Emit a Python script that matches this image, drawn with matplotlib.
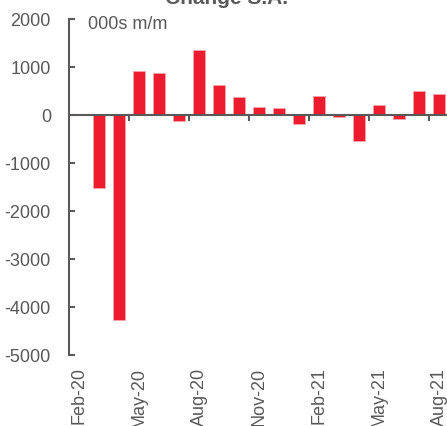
import numpy as np
import matplotlib
matplotlib.use("Agg")
import matplotlib.pyplot as plt

plt.rcParams["font.family"] = ["Liberation Sans", "DejaVu Sans"]
plt.rcParams["axes.unicode_minus"] = False

# monthly change, 000s m/m
months = ["Feb-20", "Mar-20", "Apr-20", "May-20", "Jun-20", "Jul-20", "Aug-20",
          "Sep-20", "Oct-20", "Nov-20", "Dec-20", "Jan-21", "Feb-21", "Mar-21",
          "Apr-21", "May-21", "Jun-21", "Jul-21", "Aug-21"]
change = [0, -1530, -4270, 915, 868, -118, 1360, 618, 375, 174, 139, -194,
          389, -35, -542, 201, -83, 493, 431]

grey = "#595959"
red = "#ED1C2E"

fig = plt.figure(figsize=(4.47, 4.26), dpi=100)
ax = fig.add_axes([69 / 447, 1 - 355 / 426, 1 - 69 / 447, 336 / 426])

x = np.arange(len(months))
ax.bar(x, change, width=0.6, color=red, edgecolor="#F5A3AA", linewidth=0.6, zorder=2)

ax.set_ylim(-5000, 2000)
ax.set_yticks(np.arange(-5000, 2001, 1000))
ax.tick_params(axis="y", direction="in", length=4, width=1.5, color=grey,
               labelsize=13, labelcolor=grey, pad=13)

for s in ["top", "right"]:
    ax.spines[s].set_visible(False)
ax.spines["left"].set_color(grey)
ax.spines["left"].set_linewidth(1.5)
ax.spines["bottom"].set_position(("data", 0))
ax.spines["bottom"].set_color(grey)
ax.spines["bottom"].set_linewidth(1.5)
ax.spines["bottom"].set_zorder(3)

# tick marks on the zero line, between every third month
ax.set_xticks(x[::3] + 2.5)
ax.set_xticklabels([])
ax.tick_params(axis="x", direction="out", length=4, width=1.5, color=grey)

# month labels along the bottom
sec = ax.secondary_xaxis(0)
sec.set_xticks(x[::3])
sec.set_xticklabels(months[::3], rotation=90)
sec.tick_params(length=0, labelsize=13, labelcolor=grey, pad=9)
sec.spines["bottom"].set_visible(False)

ax.set_xlim(-0.5, 18.4)

ax.text(0.05, 0.985, "000s m/m", transform=ax.transAxes, fontsize=13,
        color=grey, va="center", ha="left")

# title sits mostly above the cropped top edge, as in the source
fig.text(0.506, 1 - 4 / 426, "Change S.A.", fontsize=15, fontweight="bold",
         color=grey, ha="center", va="baseline")

fig.savefig("out.png", dpi=100)
